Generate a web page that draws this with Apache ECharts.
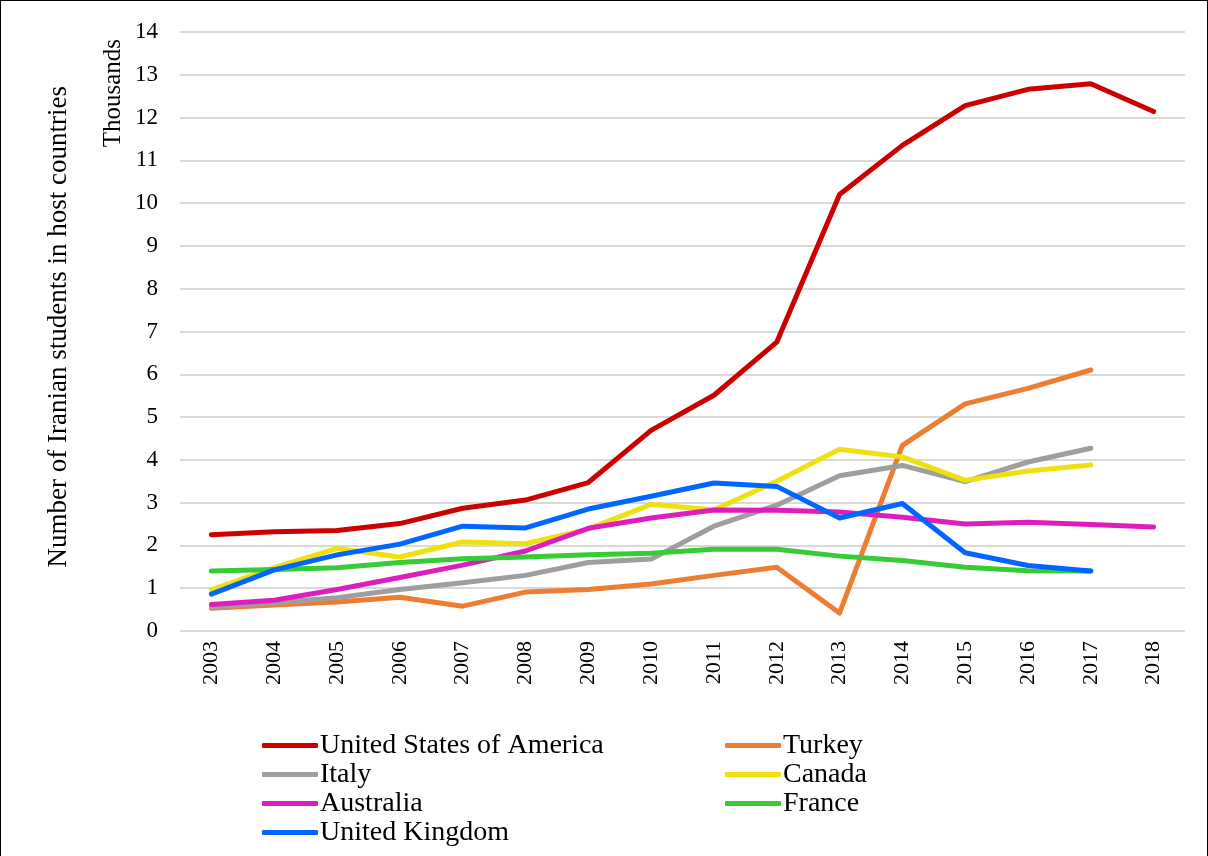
<!DOCTYPE html>
<html>
<head>
<meta charset="utf-8">
<script src="https://cdn.jsdelivr.net/npm/echarts@6/dist/echarts.min.js"></script>
<style>
  html, body { margin: 0; padding: 0; background: #fff; }
  #chart { width: 1206px; height: 855px; border: 1px solid #000; border-bottom: none; }
</style>
</head>
<body>
<div id="chart"></div>
<script>
const years = ['2003','2004','2005','2006','2007','2008','2009','2010','2011','2012','2013','2014','2015','2016','2017','2018']

// thousands of students
const usa       = [2.25, 2.32, 2.35, 2.51, 2.87, 3.06, 3.47, 4.69, 5.51, 6.75, 10.2, 11.35, 12.28, 12.66, 12.79, 12.14]
const turkey    = [0.53, 0.61, 0.68, 0.79, 0.58, 0.91, 0.97, 1.10, 1.30, 1.49, 0.42, 4.34, 5.31, 5.67, 6.10, null]
const italy     = [0.56, 0.66, 0.78, 0.97, 1.13, 1.30, 1.60, 1.68, 2.45, 2.94, 3.63, 3.87, 3.49, 3.95, 4.27, null]
const canada    = [0.96, 1.48, 1.93, 1.73, 2.08, 2.04, 2.38, 2.96, 2.83, 3.50, 4.25, 4.07, 3.52, 3.74, 3.88, null]
const australia = [0.62, 0.72, 0.97, 1.25, 1.54, 1.87, 2.40, 2.64, 2.83, 2.82, 2.78, 2.66, 2.50, 2.54, 2.49, 2.43]
const france    = [1.40, 1.44, 1.48, 1.60, 1.69, 1.73, 1.78, 1.82, 1.91, 1.91, 1.75, 1.65, 1.49, 1.41, 1.40, null]
const uk        = [0.86, 1.43, 1.78, 2.03, 2.45, 2.41, 2.85, 3.15, 3.46, 3.38, 2.64, 2.98, 1.83, 1.53, 1.40, null]

const names = ['United States of America', 'Turkey', 'Italy', 'Canada', 'Australia', 'France', 'United Kingdom']
const values = [usa, turkey, italy, canada, australia, france, uk]
const colors = ['#cc0000', '#ed7d31', '#9e9e9e', '#efe00f', '#de1dbf', '#35cc35', '#0066ff']

const serif = 'Liberation Serif'
const chart = echarts.init(document.getElementById('chart'))

const legendBase = {
  orient: 'vertical',
  top: 725,
  height: 128,
  itemWidth: 56,
  itemHeight: 5,
  itemGap: 0,
  icon: 'roundRect',
  textStyle: { fontFamily: serif, fontSize: 28, lineHeight: 29, color: '#000', padding: [0, 0, 0, -3] }
}

chart.setOption({
  animation: false,
  color: colors,
  grid: { left: 179, right: 22, top: 31, bottom: 225 },
  legend: [
    Object.assign({}, legendBase, { left: 256, data: ['United States of America', 'Italy', 'Australia', 'United Kingdom'] }),
    Object.assign({}, legendBase, { left: 719, data: ['Turkey', 'Canada', 'France'] })
  ],
  graphic: [
    {
      type: 'text', left: 44, top: 85, rotation: Math.PI / 2,
      style: { text: 'Number of Iranian students in host countries', fontFamily: serif, fontSize: 27, fill: '#000' }
    },
    {
      type: 'text', left: 100, top: 38, rotation: Math.PI / 2,
      style: { text: 'Thousands', fontFamily: serif, fontSize: 25, fill: '#000' }
    }
  ],
  xAxis: {
    type: 'category',
    data: years,
    boundaryGap: true,
    axisLine: { show: false },
    axisTick: { show: false },
    axisLabel: { rotate: 90, margin: 10, fontFamily: serif, fontSize: 22, color: '#000' }
  },
  yAxis: {
    type: 'value',
    min: 0, max: 14, interval: 1,
    axisLine: { show: false },
    axisTick: { show: false },
    axisLabel: { margin: 22, fontFamily: serif, fontSize: 23, color: '#000' },
    splitLine: { lineStyle: { color: '#d9d9d9', width: 2 } }
  },
  series: names.map((n, i) => ({
    name: n,
    type: 'line',
    data: values[i],
    symbol: 'none',
    lineStyle: { width: 5, color: colors[i], cap: 'round', join: 'round' },
    itemStyle: { color: colors[i] }
  }))
})
</script>
</body>
</html>
